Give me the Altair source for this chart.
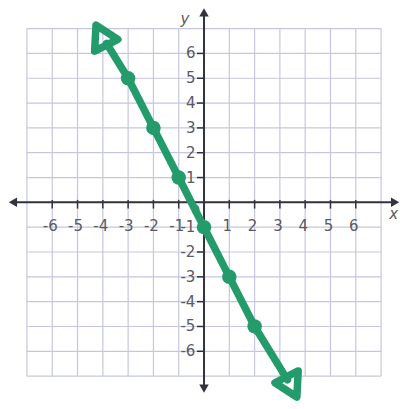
import altair as alt
import pandas as pd

# plotted points (hand-drawn line y = -2x - 1)
pt_x = [-3, -2, -1, 0, 1, 2]
pt_y = [5, 3, 1, -1, -3, -5]
# line ends (where drawn arrowheads sit)
line_x = [-3.85, -3, -2, -1, 0, 1, 2, 3.3]
line_y = [6.4, 5, 3, 1, -1, -3, -5, -7.15]
arrow_x = [-4.0, 3.4]
arrow_y = [6.6, -7.3]
arrow_ang = [333, 153]

grid_vals = list(range(-7, 8))
tick_vals = [-6, -5, -4, -3, -2, -1, 1, 2, 3, 4, 5, 6]
tick_labels = [str(v) for v in tick_vals]

XD = [-7.67, 7.59]
YD = [-7.68, 7.79]
GRID = "#c6c6e2"
AX = "#333340"
LAB = "#5a5a62"
GREEN = "#239b6b"
FONT = "DejaVu Sans"

xs = alt.Scale(domain=XD, nice=False, zero=False)
ys = alt.Scale(domain=YD, nice=False, zero=False)

def X(f):
    return alt.X(f, type="quantitative", scale=xs, axis=None)

def Y(f):
    return alt.Y(f, type="quantitative", scale=ys, axis=None)

g = pd.DataFrame({"v": grid_vals, "lo": -7, "hi": 7})
vgrid = alt.Chart(g).mark_rule(color=GRID, strokeWidth=1.2).encode(
    x=X("v"), y=Y("lo"), y2="hi")
hgrid = alt.Chart(g).mark_rule(color=GRID, strokeWidth=1.2).encode(
    y=Y("v"), x=X("lo"), x2="hi")

ax_df = pd.DataFrame({"x1": [-7.55, 0], "x2": [7.5, 0], "y1": [0, -7.55], "y2": [0, 7.65]})
axes = alt.Chart(ax_df).mark_rule(color=AX, strokeWidth=2).encode(
    x=X("x1"), x2="x2", y=Y("y1"), y2="y2")

ah = pd.DataFrame({"x": [7.5, -7.5, 0, 0], "y": [0, 0, 7.6, -7.45],
                   "a": [90, 270, 0, 180]})
axis_arrows = alt.Chart(ah).mark_point(shape="triangle", filled=True, color=AX,
                                       size=90, opacity=1).encode(
    x=X("x"), y=Y("y"), angle=alt.Angle("a:Q", scale=None))

t = pd.DataFrame({"v": tick_vals, "lab": tick_labels})
xticks = alt.Chart(t.assign(a=0.1, b=-0.25)).mark_rule(color=AX, strokeWidth=1.5).encode(
    x=X("v"), y=Y("a"), y2="b")
yticks = alt.Chart(t.assign(a=-0.28, b=0)).mark_rule(color=AX, strokeWidth=1.5).encode(
    y=Y("v"), x=X("a"), x2="b")

xlabels = alt.Chart(t.assign(yy=-0.95)).mark_text(
    font=FONT, fontSize=15, color=LAB, baseline="middle", align="center", dx=-2).encode(
    x=X("v"), y=Y("yy"), text="lab")
ylabels = alt.Chart(t.assign(xx=-0.3)).mark_text(
    font=FONT, fontSize=15, color=LAB, baseline="middle", align="right", dx=-1).encode(
    y=Y("v"), x=X("xx"), text="lab")

names = pd.DataFrame({"x": [-0.75, 7.5], "y": [7.4, -0.45], "t": ["y", "x"]})
axis_names = alt.Chart(names).mark_text(font=FONT, fontSize=15, color=LAB, fontStyle="italic",
                                        baseline="middle", align="center").encode(
    x=X("x"), y=Y("y"), text="t")
zero = pd.DataFrame({"x": [-0.33], "y": [-0.36], "t": ["0"]})
zero_lab = alt.Chart(zero).mark_text(font=FONT, fontSize=14, color=LAB,
                                     baseline="middle", align="center").encode(
    x=X("x"), y=Y("y"), text="t")

ld = pd.DataFrame({"x": line_x, "y": line_y, "o": list(range(len(line_x)))})
line = alt.Chart(ld).mark_line(color=GREEN, strokeWidth=7.5, strokeCap="round",
                               strokeJoin="round").encode(
    x=X("x"), y=Y("y"), order="o:Q")

pd_ = pd.DataFrame({"x": pt_x, "y": pt_y})
pts = alt.Chart(pd_).mark_circle(color=GREEN, size=210, opacity=1).encode(
    x=X("x"), y=Y("y"))

ad = pd.DataFrame({"x": arrow_x, "y": arrow_y, "a": arrow_ang})
arrows = alt.Chart(ad).mark_point(shape="triangle", filled=False, color=GREEN,
                                  strokeWidth=7.5, size=680, opacity=1,
                                  strokeJoin="round").encode(
    x=X("x"), y=Y("y"), angle=alt.Angle("a:Q", scale=None))

chart = alt.layer(vgrid, hgrid, axes, axis_arrows, xticks, yticks, xlabels, ylabels,
                  axis_names, zero_lab, line, pts, arrows).properties(
    width=392, height=393,
    autosize=alt.AutoSizeParams(type="fit", contains="padding"),
    padding=0,
    background="white",
).configure_view(stroke=None)

chart.save("out.html", embed_options={"renderer": "svg", "actions": False})
